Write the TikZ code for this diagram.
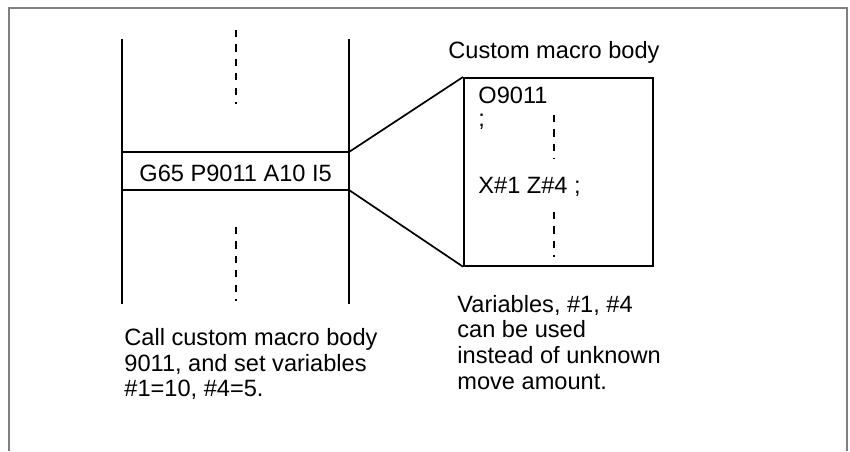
\documentclass[tikz,border=0pt]{standalone}
\usepackage{fontspec}
\setmainfont{Liberation Sans}
\tikzset{
  prog/.style={line width=0.85pt},
  dots/.style={line width=1.35pt, dash pattern=on 3.6pt off 3.6pt},
  txt/.style={anchor=base west, inner sep=0pt},
  para/.style={anchor=north west, inner sep=0pt, align=left}
}
\begin{document}
\begin{tikzpicture}[x=0.5pt, y=-0.5pt, font=\fontsize{11.8}{12.85}\selectfont]
  \useasboundingbox (0,0) rectangle (850,451);
  % frame, open at the bottom
  \draw[gray, line width=1pt] (8.5,451) -- (8.5,8) -- (846.5,8) -- (846.5,451);
  % calling program
  \coordinate (lt) at (122,39);
  \coordinate (lb) at (122,304);
  \coordinate (rt) at (349,39);
  \coordinate (rb) at (349,304);
  \coordinate (bl) at (122,152);
  \coordinate (br) at (349,152);
  \coordinate (cl) at (122,190);
  \coordinate (cr) at (349,190);
  \draw[prog] (lt) -- (lb);
  \draw[prog] (rt) -- (rb);
  \draw[prog] (bl) -- (br);
  \draw[prog] (cl) -- (cr);
  \node[txt] (call) at (139,181) {G65 P9011 A10 I5};
  \coordinate (d1) at (236,30);
  \coordinate (d2) at (236,104);
  \coordinate (d3) at (236,227);
  \coordinate (d4) at (236,301);
  \draw[dots] (d1) -- (d2);
  \draw[dots] (d3) -- (d4);
  % macro body
  \node[draw, prog, anchor=north west, inner sep=0pt,
        minimum width=94.5pt, minimum height=94pt] (body) at (463,77) {};
  \draw[prog] (br) -- (body.north west);
  \draw[prog] (cr) -- (body.south west);
  \node[txt] (title) at (448,58) {Custom macro body};
  \node[txt] (onum) at (478,103) {O9011};
  \node[txt] (semi) at (478,126) {;};
  \node[txt] (move) at (478,193) {X\#1 Z\#4 ;};
  \coordinate (e1) at (554,115);
  \coordinate (e2) at (554,159);
  \coordinate (e3) at (554,212);
  \coordinate (e4) at (554,257);
  \draw[dots] (e1) -- (e2);
  \draw[dots] (e3) -- (e4);
  % notes
  \node[para] (note1) at (124,328) {Call custom macro body\\9011, and set variables\\\#1=10, \#4=5.};
  \node[para] (note2) at (457,294.5) {Variables, \#1, \#4\\can be used\\instead of unknown\\move amount.};
\end{tikzpicture}
\end{document}
